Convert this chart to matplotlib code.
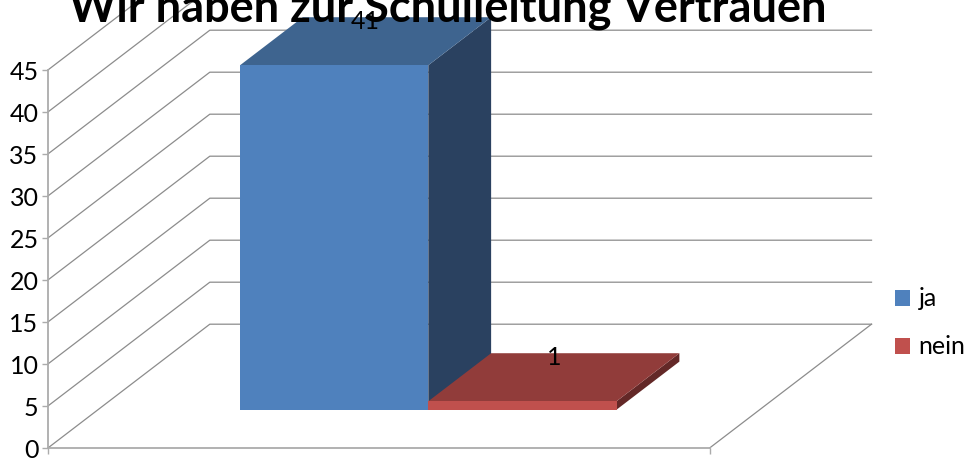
import matplotlib
matplotlib.use('Agg')
import matplotlib.pyplot as plt
from matplotlib.patches import Polygon, Rectangle
from matplotlib.transforms import ScaledTranslation

# Datos
categorias = ['ja', 'nein']
valores = [41, 1]
ticks_y = [0, 5, 10, 15, 20, 25, 30, 35, 40, 45]
titulo = 'Wir haben zur Schulleitung Vertrauen'

colores_frente = ['#4F81BD', '#C0504D']
colores_arriba = ['#3E648F', '#913C3A']
colores_lado = ['#2A4160', '#632827']

W, H = 974, 462
plt.rcParams['font.family'] = ['Lato', 'DejaVu Sans']

fig = plt.figure(figsize=(W / 100, H / 100), dpi=100)
# el plano frontal del grafico 3D
ax = fig.add_axes([48.3 / W, 1 - 447.7 / H, 661.7 / W, 378 / H])
ax.set_xlim(0, 1)
ax.set_ylim(0, 45)

# Profundidad oblicua en unidades de los ejes
prof_x = 161.5 / 661.7
prof_y = 123.5 / 8.4
d_frente = 0.308
d_fondo = 0.697
x_inicio = 0.2146
ancho = 0.2845


def proy(x, y, d):
    return x + d * prof_x, y + d * prof_y


# Grilla: pared izquierda y pared del fondo
for t in ticks_y:
    xs = [0, proy(0, t, 1)[0], proy(1, t, 1)[0]]
    ys = [t, proy(0, t, 1)[1], proy(1, t, 1)[1]]
    ax.plot(xs, ys, color='#8C8C8C', lw=0.9, clip_on=False, zorder=1)
# Piso derecho
ax.plot([1, proy(1, 0, 1)[0]], [0, proy(1, 0, 1)[1]], color='#8C8C8C', lw=0.9,
        clip_on=False, zorder=1)

# Barras
for i, v in enumerate(valores):
    x0 = x_inicio + i * ancho
    x1 = x0 + ancho
    frente = [proy(x0, 0, d_frente), proy(x1, 0, d_frente), proy(x1, v, d_frente), proy(x0, v, d_frente)]
    arriba = [proy(x0, v, d_frente), proy(x1, v, d_frente), proy(x1, v, d_fondo), proy(x0, v, d_fondo)]
    lado = [proy(x1, 0, d_frente), proy(x1, 0, d_fondo), proy(x1, v, d_fondo), proy(x1, v, d_frente)]
    ax.add_patch(Polygon(lado, color=colores_lado[i], lw=0, clip_on=False, zorder=2 + i))
    ax.add_patch(Polygon(arriba, color=colores_arriba[i], lw=0, clip_on=False, zorder=2 + i))
    ax.add_patch(Polygon(frente, color=colores_frente[i], lw=0, clip_on=False, zorder=2 + i))
    # Etiqueta del valor
    xm = proy((x0 + x1) / 2, v, (d_frente + d_fondo) / 2)[0]
    ym = proy(x0, v, d_fondo)[1]
    ax.annotate(str(v), (xm, ym), xytext=(0, -4), textcoords='offset pixels', ha='center', va='center',
                fontsize=18, color='black', annotation_clip=False, zorder=6)

# Ejes
ax.patch.set_visible(False)
for lado_eje in ['top', 'right']:
    ax.spines[lado_eje].set_visible(False)
for lado_eje in ['left', 'bottom']:
    ax.spines[lado_eje].set_color('#ABABAB')
    ax.spines[lado_eje].set_linewidth(1.3)
ax.set_yticks(ticks_y)
ax.set_xticks([0, 1])
ax.set_xticklabels([])
ax.tick_params(axis='y', length=4, width=1, color='#ABABAB', labelsize=18, pad=3, labelcolor='black')
ax.tick_params(axis='x', length=4, width=1, color='#ABABAB')
baja = ScaledTranslation(0, -3 / 100, fig.dpi_scale_trans)
for etiqueta in ax.get_yticklabels():
    etiqueta.set_verticalalignment('center')
    etiqueta.set_transform(etiqueta.get_transform() + baja)

# Titulo
fig.text(448 / W, 1 - 21 / H, titulo, ha='center', va='baseline', fontsize=32.5, fontweight='bold', color='black')

# Leyenda
handles = [Rectangle((0, 0), 1, 1, color=c, lw=0) for c in colores_frente]
fig.legend(handles, categorias, loc='center left', bbox_to_anchor=(895 / W, 1 - 323 / H),
           frameon=False, fontsize=18, handlelength=0.6, handleheight=0.6,
           handletextpad=0.34, labelspacing=1.0, borderpad=0, borderaxespad=0)

fig.savefig('out.png', dpi=100)
